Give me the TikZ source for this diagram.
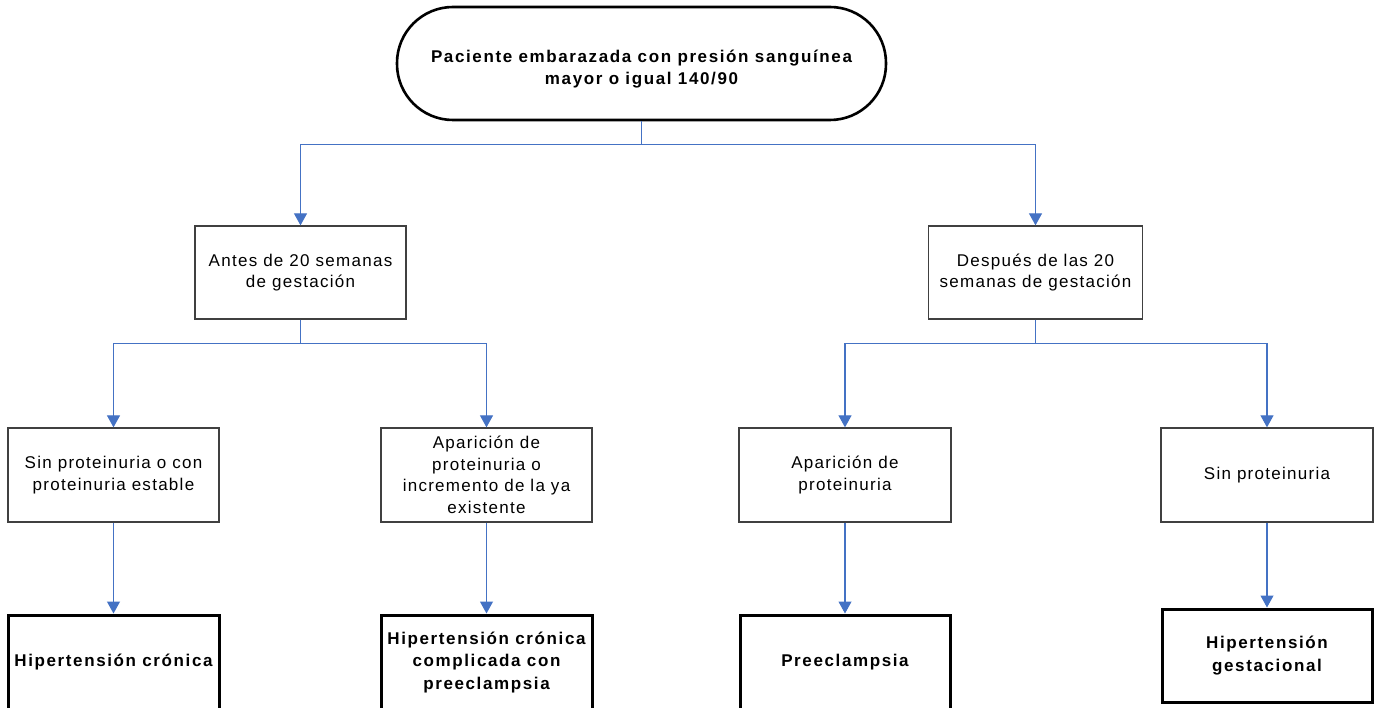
\documentclass[tikz,border=0pt]{standalone}
\usepackage{fontspec}
\setmainfont{Liberation Sans}[LetterSpace=7.5, BoldFeatures={LetterSpace=9.5}]
\usetikzlibrary{arrows.meta}
\definecolor{conn}{HTML}{4472C4}
\definecolor{boxline}{HTML}{404040}
\tikzset{
  base/.style={align=center, inner sep=2pt, font=\fontsize{17}{21.5}\selectfont},
  midbox/.style={base, draw=boxline, line width=1.3pt, fill=white},
  endbox/.style={base, draw=black, line width=3pt, fill=white, font=\fontsize{17}{22.5}\selectfont\bfseries},
  startbox/.style={base, draw=black, line width=2.6pt, fill=white, rounded corners=56pt, font=\fontsize{17}{22.5}\selectfont\bfseries},
  arr/.style={draw=conn, line width=1.1pt, -{Triangle[width=13pt,length=12pt]}}
}
\begin{document}
\begin{tikzpicture}[x=1pt,y=1pt]
\useasboundingbox (0,0) rectangle (1377,-708);
\clip (0,0) rectangle (1377,-708);
\fill[white] (0,0) rectangle (1377,-708);

\node[startbox, minimum width=489pt, minimum height=113pt] (top) at (641.5,-63.5)
  {\rule{0pt}{24pt}Paciente embarazada con presión sanguínea\\mayor o igual 140/90};

\node[midbox, minimum width=211pt, minimum height=93pt] (antes) at (300.5,-272.5)
  {Antes de 20 semanas\\de gestación};
\node[midbox, minimum width=214pt, minimum height=93pt] (despues) at (1035.5,-272.5)
  {Después de las 20\\semanas de gestación};

\node[midbox, minimum width=211pt, minimum height=94pt] (sin1) at (113.5,-475)
  {Sin proteinuria o con\\proteinuria estable};
\node[midbox, minimum width=211pt, minimum height=94pt] (apar1) at (486.5,-475)
  {Aparición de\\proteinuria o\\incremento de la ya\\existente};
\node[midbox, minimum width=212pt, minimum height=94pt] (apar2) at (845,-475)
  {Aparición de\\proteinuria};
\node[midbox, minimum width=212pt, minimum height=94pt] (sin2) at (1267,-475)
  {Sin proteinuria};

\node[endbox, minimum width=211pt, minimum height=95pt] (hc) at (113.5,-662.5)
  {Hipertensión crónica};
\node[endbox, minimum width=211pt, minimum height=95pt] (hcc) at (486.5,-662.5)
  {Hipertensión crónica\\complicada con\\preeclampsia};
\node[endbox, minimum width=210pt, minimum height=95pt] (pre) at (845,-662.5)
  {Preeclampsia};
\node[endbox, minimum width=210pt, minimum height=93pt] (hg) at (1267,-655.5)
  {Hipertensión\\gestacional};

\draw[arr] (top.south) -- ++(0,-23) -| (antes.north);
\draw[arr] (top.south) -- ++(0,-23) -| (despues.north);

\draw[arr] (antes.south) -- ++(0,-24) -| (sin1.north);
\draw[arr] (antes.south) -- ++(0,-24) -| (apar1.north);
\draw[arr] (despues.south) -- ++(0,-24) -| (apar2.north);
\draw[arr] (despues.south) -- ++(0,-24) -| (sin2.north);

\draw[arr] (sin1.south) -- (hc.north);
\draw[arr] (apar1.south) -- (hcc.north);
\draw[arr] (apar2.south) -- (pre.north);
\draw[arr] (sin2.south) -- (hg.north);
\end{tikzpicture}
\end{document}
